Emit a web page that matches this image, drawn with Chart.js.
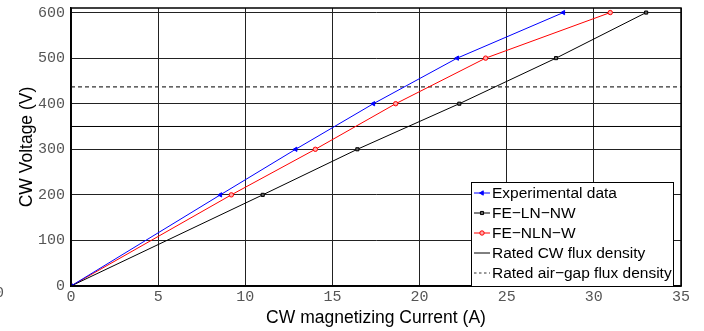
<!DOCTYPE html>
<html>
<head>
<meta charset="utf-8">
<script src="https://cdn.jsdelivr.net/npm/chart.js@4/dist/chart.umd.min.js"></script>
<style>
  html, body { margin: 0; padding: 0; background: #fff; }
  #wrap { width: 704px; height: 331px; position: relative; }
</style>
</head>
<body>
<div id="wrap"><canvas id="c" width="704" height="331"></canvas></div>
<script>
// CW voltage steps (V)
const voltage = [0, 200, 300, 400, 500, 600];
// magnetizing current (A) at each voltage step
const currentExperimental = [0, 8.57, 12.89, 17.35, 22.16, 28.25];
const currentFeLnNw = [0, 11.0, 16.43, 22.28, 27.83, 33.0];
const currentFeNlnW = [0, 9.2, 14.02, 18.63, 23.79, 30.94];
// rated flux density reference levels (V)
const ratedCwLevel = 350;
const ratedAirGapLevel = 437;
const currentRange = [0, 35];
const voltageRange = [0, 610];
const currentTicks = [0, 5, 10, 15, 20, 25, 30, 35];
const voltageTicks = [0, 100, 200, 300, 400, 500, 600];
const seriesNames = ['Experimental data', 'FE\u2212LN\u2212NW', 'FE\u2212NLN\u2212W',
                     'Rated CW flux density', 'Rated air\u2212gap flux density'];

const pts = (xs, ys) => xs.map((x, i) => ({ x, y: ys[i] }));
const flat = (level) => currentRange.map(x => ({ x, y: level }));

const datasets = [
  { label: seriesNames[0], data: pts(currentExperimental, voltage), borderColor: '#0000ff',
    backgroundColor: '#0000ff', borderWidth: 1, pointStyle: 'triangle', pointRotation: -90,
    pointRadius: 2.5, pointBorderWidth: 1 },
  { label: seriesNames[1], data: pts(currentFeLnNw, voltage), borderColor: '#000000',
    backgroundColor: '#666666', borderWidth: 1, pointStyle: 'rect',
    pointRadius: 2.2, pointBorderWidth: 1 },
  { label: seriesNames[2], data: pts(currentFeNlnW, voltage), borderColor: '#ff0000',
    backgroundColor: '#ffaaaa', borderWidth: 1, pointStyle: 'circle',
    pointRadius: 2.2, pointBorderWidth: 1 },
  { label: seriesNames[3], data: flat(ratedCwLevel), borderColor: '#000000',
    borderWidth: 1, pointRadius: 0 },
  { label: seriesNames[4], data: flat(ratedAirGapLevel), borderColor: '#333333',
    borderWidth: 1.3, borderDash: [4, 3], pointRadius: 0 }
];
datasets.forEach(d => { d.showLine = true; d.fill = false; d.tension = 0; });

const tickFont = { family: 'Liberation Mono', size: 15 };
const titleFont = { family: 'Liberation Sans', size: 17.5 };

// box frame, stray corner label and in-plot legend
const framePlugin = {
  id: 'frame',
  afterDatasetsDraw(chart) {
    const { ctx, chartArea: a } = chart;
    ctx.save();
    ctx.strokeStyle = '#000';
    ctx.lineWidth = 1.5;
    ctx.strokeRect(a.left, a.top, a.right - a.left, a.bottom - a.top);
    ctx.restore();
  },
  afterDraw(chart) {
    const { ctx, chartArea: a } = chart;
    ctx.save();
    ctx.font = '15px "Liberation Mono"';
    ctx.fillStyle = '#555';
    ctx.textAlign = 'right';
    ctx.textBaseline = 'middle';
    ctx.fillText('0', 4, 293);

    // legend box
    const bx = 471, by = 182, bw = 202, bh = a.bottom - 182;
    ctx.fillStyle = '#fff';
    ctx.fillRect(bx, by, bw, bh);
    ctx.strokeStyle = '#000';
    ctx.lineWidth = 1;
    ctx.strokeRect(bx + 0.5, by + 0.5, bw, bh);
    ctx.font = '15.5px "Liberation Sans"';
    ctx.textAlign = 'left';
    ctx.textBaseline = 'middle';
    chart.data.datasets.forEach((d, i) => {
      const y = by + 11 + i * 20;
      ctx.save();
      ctx.strokeStyle = d.borderColor;
      ctx.lineWidth = 1;
      ctx.setLineDash(d.borderDash ? [2.5, 2.5] : []);
      ctx.beginPath();
      ctx.moveTo(bx + 3, y);
      ctx.lineTo(bx + 19, y);
      ctx.stroke();
      ctx.restore();
      if (d.pointRadius > 0) {
        ctx.save();
        ctx.strokeStyle = d.borderColor;
        ctx.fillStyle = d.backgroundColor;
        ctx.lineWidth = 1;
        Chart.helpers.drawPoint(ctx, {
          pointStyle: d.pointStyle, rotation: d.pointRotation || 0,
          radius: d.pointRadius, borderWidth: 1
        }, bx + 11, y);
        ctx.restore();
      }
      ctx.fillStyle = '#000';
      ctx.fillText(d.label, bx + 21, y + 1);
    });
    ctx.restore();
  }
};

new Chart(document.getElementById('c'), {
  type: 'scatter',
  data: { datasets },
  options: {
    responsive: false,
    animation: false,
    layout: { padding: { left: 0, top: 8, right: 23, bottom: 0 } },
    plugins: { legend: { display: false }, tooltip: { enabled: false } },
    scales: {
      x: {
        type: 'linear', min: currentRange[0], max: currentRange[1],
        afterFit: s => { s.height = 45; s.paddingLeft = 0; s.paddingRight = 0; },
        afterBuildTicks: s => { s.ticks = currentTicks.map(v => ({ value: v })); },
        ticks: { color: '#555', font: tickFont, padding: 2, maxRotation: 0 },
        grid: { color: '#222', lineWidth: 1, drawTicks: false },
        border: { color: '#000', width: 1.5 },
        title: { display: true, text: 'CW magnetizing Current (A)', color: '#000',
                 font: titleFont, padding: { top: 0, bottom: 2 } }
      },
      y: {
        type: 'linear', min: voltageRange[0], max: voltageRange[1],
        afterFit: s => { s.width = 71; s.paddingTop = 0; s.paddingBottom = 0; },
        afterBuildTicks: s => { s.ticks = voltageTicks.map(v => ({ value: v })); },
        ticks: { color: '#555', font: tickFont, padding: 6 },
        grid: { color: '#222', lineWidth: 1, drawTicks: false },
        border: { color: '#000', width: 1.5 },
        title: { display: true, text: 'CW Voltage (V)', color: '#000',
                 font: titleFont, padding: { top: 17, bottom: 0 } }
      }
    }
  },
  plugins: [framePlugin]
});
</script>
</body>
</html>
